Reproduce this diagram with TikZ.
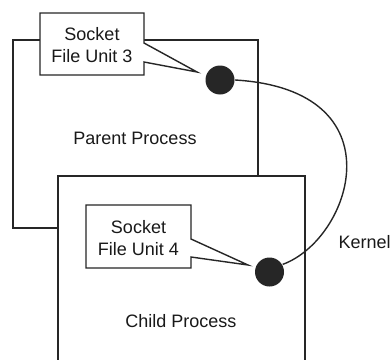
\documentclass[tikz,border=0pt]{standalone}
\usepackage{fontspec}
\setmainfont{Liberation Sans}
\usetikzlibrary{positioning}

\begin{document}
\begin{tikzpicture}[x=1pt, y=-1pt, line width=1.4pt,
    box/.style={draw=black!85, fill=white},
    dot/.style={circle, fill=black!85, minimum size=29pt, inner sep=0pt},
    lbl/.style={text=black!90, font=\fontsize{18}{22}\selectfont, align=center, inner sep=0pt}]

    \useasboundingbox (0,0) rectangle (391,359);
    \clip (0,0) rectangle (391,359);

    % processes
    \draw[box] (13,40) rectangle (258,228);
    \draw[box] (58,176) rectangle (305,380);
    \node[lbl, anchor=base] (parent) at (135,144) {Parent Process};
    \node[lbl, anchor=base] (child) at (181,327) {Child Process};

    % sockets
    \node[dot] (d3) at (220,80) {};
    \node[dot] (d4) at (269.5,272) {};

    \coordinate (t3) at (197,72);
    \coordinate (t4) at (248,265);

    \draw[box] (40,13) -- (144,13) -- (144,43) -- (t3) -- (144,62) -- (144,75) -- (40,75) -- cycle;
    \draw[box] (86,205) -- (191,205) -- (191,239) -- (t4) -- (191,257) -- (191,268) -- (86,268) -- cycle;
    \node[lbl] (s3) at (92,45) {Socket\\File Unit 3};
    \node[lbl] (s4) at (138.5,238) {Socket\\File Unit 4};

    % kernel
    \draw[draw=black!85] (d3.east) .. controls (400,90) and (352,239) .. (d4.30);
    \node[lbl, anchor=base west] (kernel) at (338,248) {Kernel};
\end{tikzpicture}
\end{document}
